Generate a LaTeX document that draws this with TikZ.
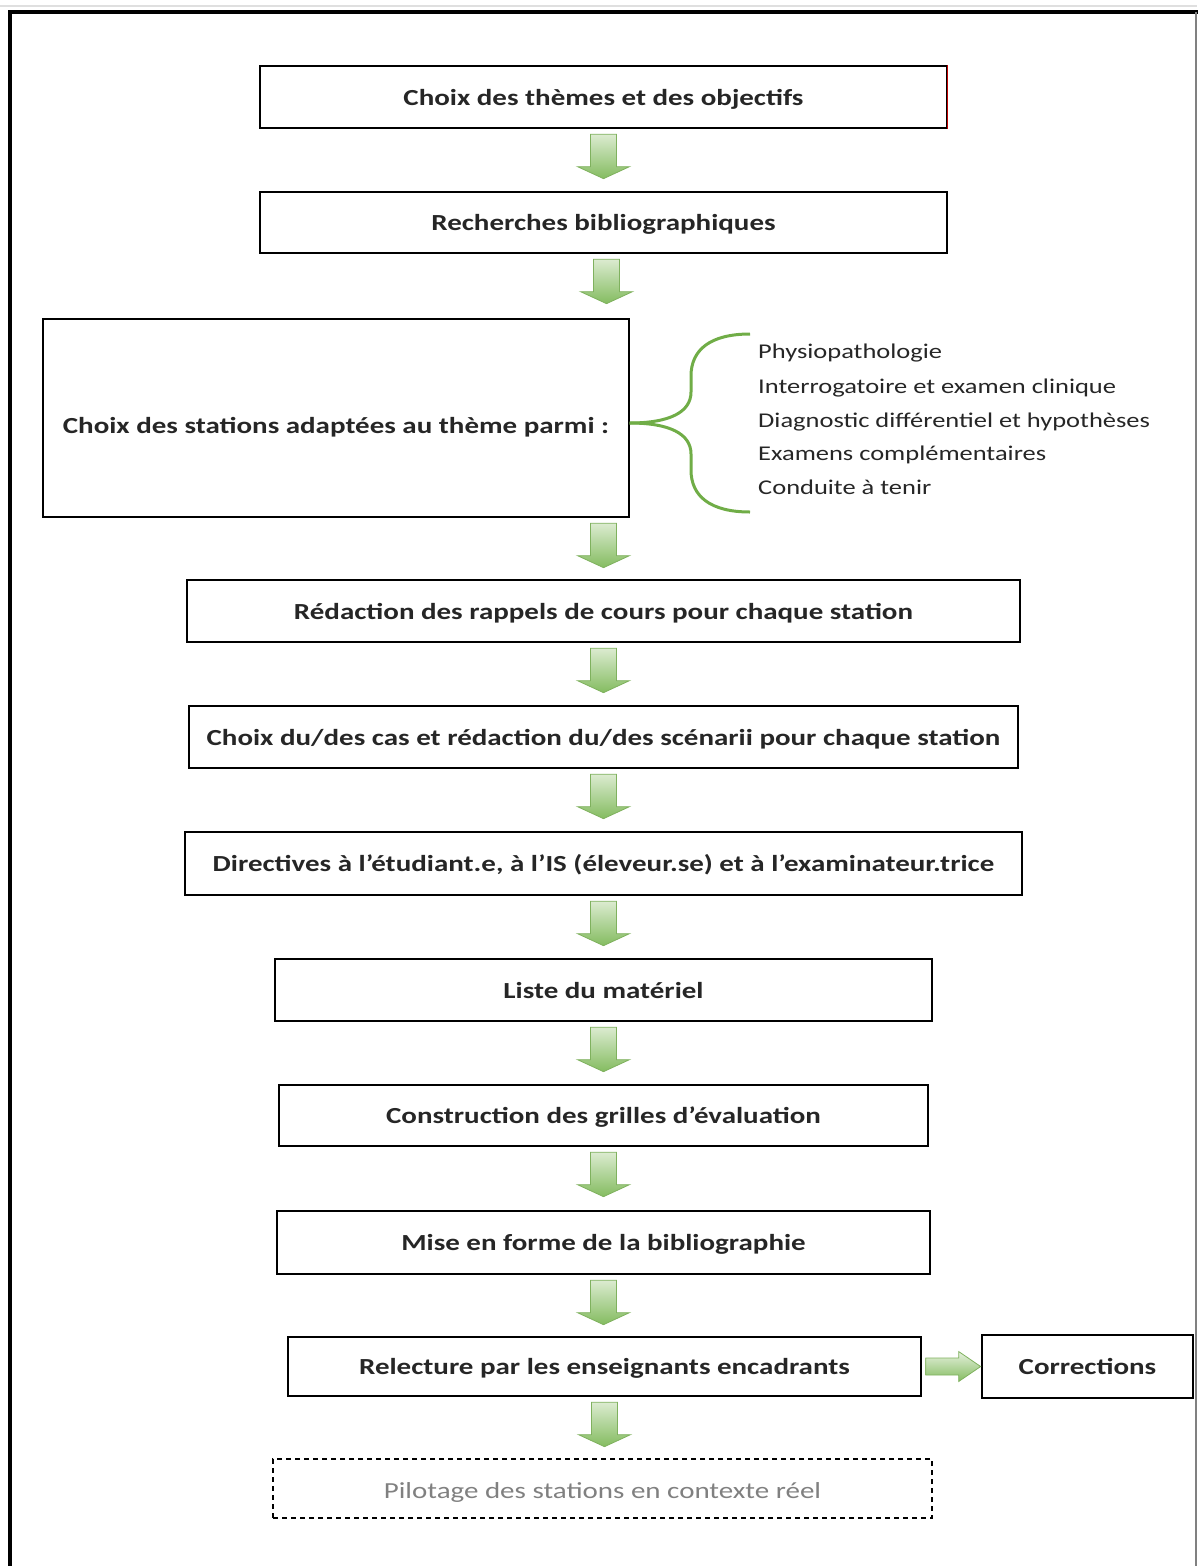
\documentclass[tikz,border=0pt]{standalone}
\usepackage{fontspec}
\setmainfont{Carlito}[FakeStretch=1.26]
\usetikzlibrary{calc}
\definecolor{grn}{HTML}{70AD47}
\definecolor{grnlight}{HTML}{E6F1DE}
\definecolor{grndark}{HTML}{84BC60}
\definecolor{grnborder}{HTML}{7FB15E}
\definecolor{txt}{HTML}{262626}
\tikzset{
  box/.style={draw, line width=1.3pt, inner sep=0pt, text=txt, text height=20pt, text depth=3.6pt,
    font=\bfseries\fontsize{23}{27}\selectfont},
  garrowst/.style={draw=grnborder, line width=0.8pt, top color=grnlight, bottom color=grndark},
  listtxt/.style={anchor=base west, inner sep=0pt, text=txt, font=\fontsize{21}{25}\selectfont},
}
\newcommand\garrow[1]{\path[garrowst] #1 ++(-13,5.5) -- ++(26,0) -- ++(0,32.5) -- ++(13,0) -- ++(-26,12) -- ++(-26,-12) -- ++(13,0) -- cycle;}
\begin{document}
\begin{tikzpicture}[x=1pt,y=-1pt]
\useasboundingbox (0,0) rectangle (1197,1566);
% outer frame
\draw[gray!25, line width=1.5pt] (0,6) -- (1197,6);
\draw[line width=3.5pt, line cap=rect] (10,1566) -- (10,12) -- (1197,12);
\draw[gray, line width=1.5pt] (1196,12) -- (1196,1566);
% boxes
\node[box, minimum width=687, minimum height=62] (b1) at (603.5,97) {Choix des thèmes et des objectifs};
\draw[red!75!black, line width=1.5pt] (b1.north east) -- (b1.south east);
\node[box, minimum width=687, minimum height=61] (b2) at (603.5,222.5) {Recherches bibliographiques};
\node[box, minimum width=586, minimum height=198] (b3) at (336,418) {};
\node[inner sep=0pt, text=txt, text height=20pt, text depth=3.6pt, font=\bfseries\fontsize{23}{27}\selectfont] (t3) at (336,425) {Choix des stations adaptées au thème parmi :};
\node[box, minimum width=833, minimum height=62] (b4) at (603.5,611) {Rédaction des rappels de cours pour chaque station};
\node[box, minimum width=829, minimum height=62] (b5) at (603.5,737) {Choix du/des cas et rédaction du/des scénarii pour chaque station};
\node[box, minimum width=837, minimum height=63] (b6) at (603.5,863.5) {Directives à l’étudiant.e, à l’IS (éleveur.se) et à l’examinateur.trice};
\node[box, minimum width=657, minimum height=62] (b7) at (603.5,990) {Liste du matériel};
\node[box, minimum width=649, minimum height=61] (b8) at (603.5,1115.5) {Construction des grilles d’évaluation};
\node[box, minimum width=653, minimum height=63] (b9) at (603.5,1242.5) {Mise en forme de la bibliographie};
\node[box, minimum width=633, minimum height=59] (b10) at (604.5,1366.5) {Relecture par les enseignants encadrants};
\node[box, minimum width=211, minimum height=63] (b11) at (1087.5,1366.5) {Corrections};
\node[box, dash pattern=on 5pt off 4pt, text=gray, font=\fontsize{23}{27}\selectfont,
  text height=21pt, text depth=2pt,
  minimum width=659, minimum height=59] (b12) at (602.5,1488.5) {Pilotage des stations en contexte réel};
% brace
\coordinate (bt) at ($(b3.east)+(0,5)$);
\draw[grn, line width=3pt] (bt) .. controls (670,423) and (691,412) .. (691,392) -- (691,376)
  .. controls (691,350) and (710,334) .. (750,334);
\draw[grn, line width=3pt] (bt) .. controls (670,423) and (691,434) .. (691,454) -- (691,470)
  .. controls (691,496) and (710,512) .. (750,512);
% list
\node[listtxt] (l1) at (758,358) {Physiopathologie};
\node[listtxt] (l2) at (758,393) {Interrogatoire et examen clinique};
\node[listtxt] (l3) at (758,427) {Diagnostic différentiel et hypothèses};
\node[listtxt] (l4) at (758,460) {Examens complémentaires};
\node[listtxt] (l5) at (758,494) {Conduite à tenir};
% arrows
\garrow{(b1.south)}
\garrow{($(b2.south)+(3,0)$)}
\garrow{(b4.north |- b3.south)}
\garrow{(b4.south)}
\garrow{(b5.south)}
\garrow{(b6.south)}
\garrow{(b7.south)}
\garrow{(b8.south)}
\garrow{(b9.south)}
\garrow{(b10.south)}
\path[garrowst] (b10.east) ++(4,-8.5) -- ++(33,0) -- ++(0,-6.5) -- ++(22,15) -- ++(-22,15) -- ++(0,-6.5) -- ++(-33,0) -- cycle;
\end{tikzpicture}
\end{document}
